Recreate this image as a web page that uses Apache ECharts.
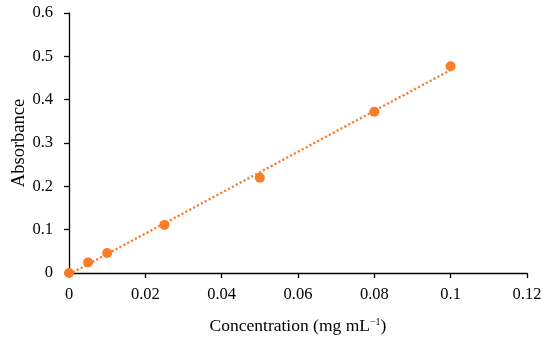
<!DOCTYPE html>
<html><head><meta charset="utf-8">
<script src="https://cdn.jsdelivr.net/npm/echarts@6/dist/echarts.min.js"></script>
<style>html,body{margin:0;padding:0;background:#fff}#c{width:550px;height:341px}</style>
</head><body><div id="c"></div>
<script>
const concentration = [0, 0.005, 0.01, 0.025, 0.05, 0.08, 0.1];
const absorbance = [0, 0.0245, 0.046, 0.111, 0.22, 0.372, 0.477];
const xTicks = [0, 0.02, 0.04, 0.06, 0.08, 0.1, 0.12];
const yTicks = [0, 0.1, 0.2, 0.3, 0.4, 0.5, 0.6];

// linear trendline (least squares) from the data
const n = concentration.length;
const mx = concentration.reduce((a,b)=>a+b,0)/n;
const my = absorbance.reduce((a,b)=>a+b,0)/n;
let sxy=0,sxx=0;
for(let i=0;i<n;i++){sxy+=(concentration[i]-mx)*(absorbance[i]-my);sxx+=(concentration[i]-mx)**2;}
const slope=sxy/sxx, icpt=my-slope*mx;
const x0=Math.min(...concentration), x1=Math.max(...concentration);
const trend=[[x0, slope*x0+icpt],[x1, slope*x1+icpt]];

const font='"Liberation Serif", "DejaVu Serif", serif';
const orange='#F97D2B';
const chart=echarts.init(document.getElementById('c'),null,{renderer:'canvas'});
chart.setOption({
  animation:false,
  grid:{left:69,right:23,top:13,bottom:68,containLabel:false,outerBoundsMode:'none'},
  xAxis:{type:'value',min:xTicks[0],max:xTicks[xTicks.length-1],interval:0.02,
    name:'{a|Concentration (mg mL}{s|−1}{a|)}',nameLocation:'middle',nameGap:44,nameMoveOverlap:false,
    nameTextStyle:{rich:{a:{fontFamily:font,fontSize:17.5,color:'#000'},s:{fontFamily:font,fontSize:10,color:'#000',verticalAlign:'top',padding:[0,0,6,0]}}},
    axisLine:{lineStyle:{color:'#000',width:1.3}},
    axisTick:{show:true,inside:false,length:5,lineStyle:{color:'#000',width:1.3}},
    splitLine:{show:false},
    axisLabel:{fontFamily:font,fontSize:16.5,color:'#000',margin:13,formatter:v=>String(+v.toFixed(2))}},
  yAxis:{type:'value',min:yTicks[0],max:yTicks[yTicks.length-1],interval:0.1,
    name:'Absorbance',nameLocation:'middle',nameGap:40,nameRotate:90,nameMoveOverlap:false,
    nameTextStyle:{fontFamily:font,fontSize:18.5,color:'#000'},
    axisLine:{show:true,lineStyle:{color:'#000',width:1.3}},
    axisTick:{show:true,inside:false,length:5,lineStyle:{color:'#000',width:1.3}},
    splitLine:{show:false},
    axisLabel:{fontFamily:font,fontSize:16.5,color:'#000',margin:16,formatter:v=>String(+v.toFixed(1))}},
  series:[
    {type:'line',data:trend,symbol:'none',lineStyle:{color:orange,width:2.3,type:[2.2,2.2]},z:2},
    {type:'scatter',data:concentration.map((x,i)=>[x,absorbance[i]]),symbol:'circle',symbolSize:10,itemStyle:{color:orange,opacity:1},z:3}
  ]
});
</script></body></html>
